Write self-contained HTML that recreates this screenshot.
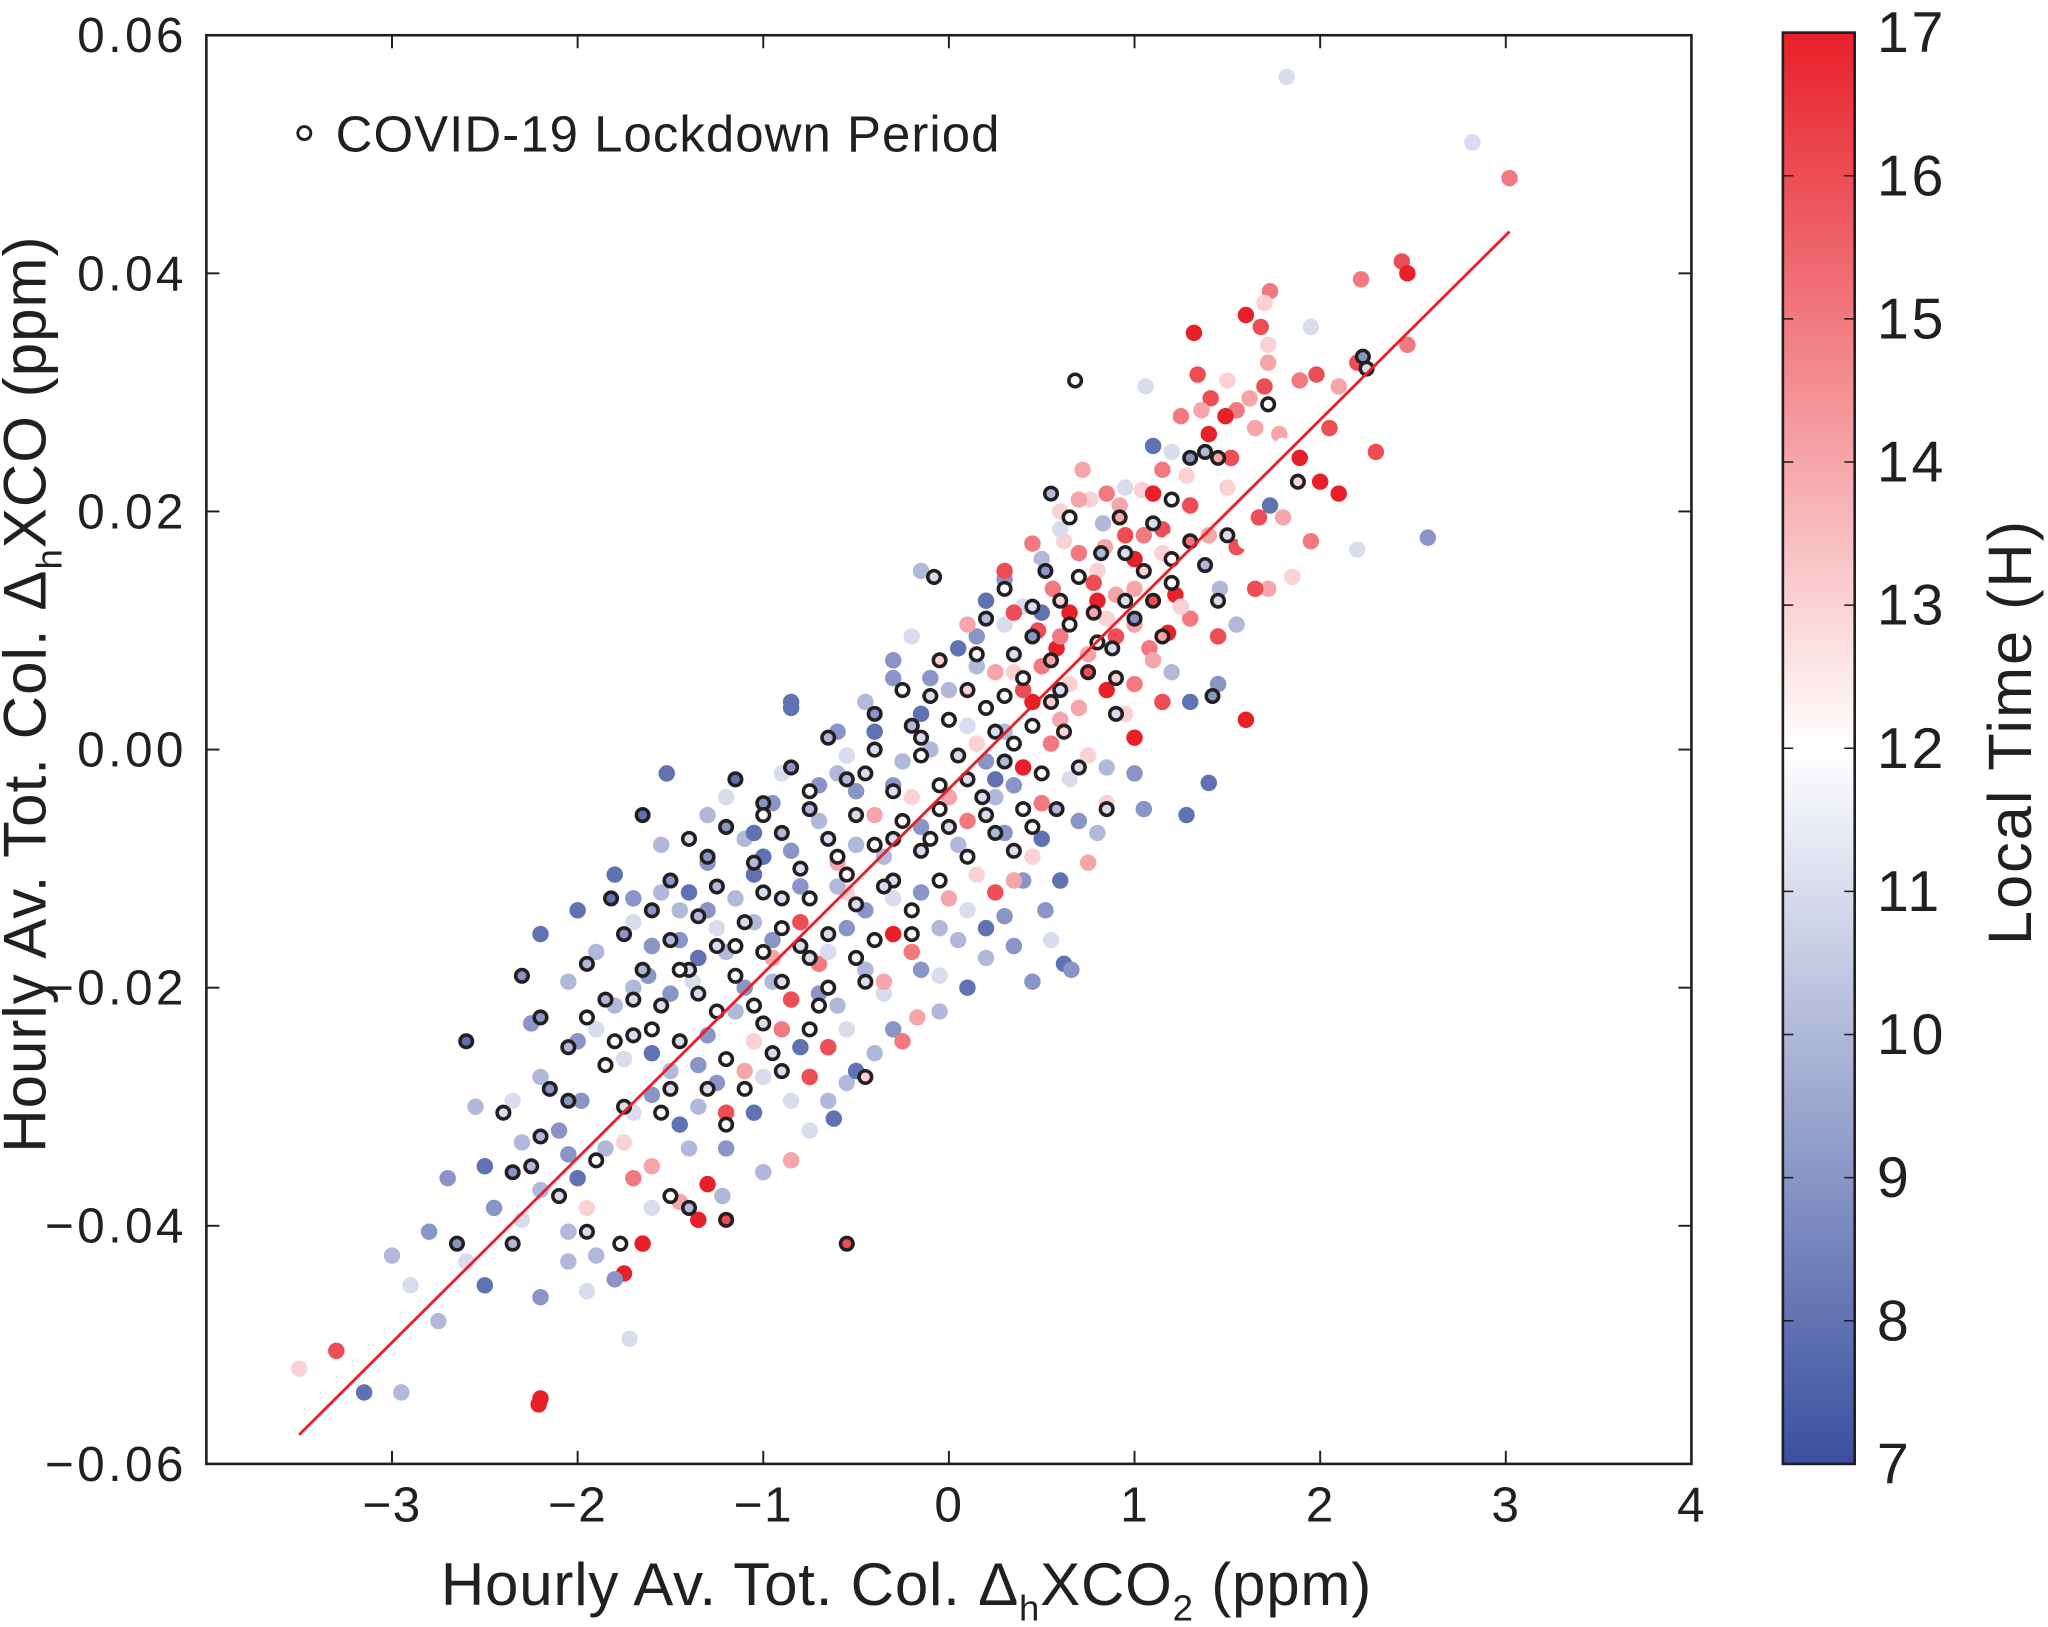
<!DOCTYPE html>
<html><head><meta charset="utf-8"><style>html,body{margin:0;padding:0;background:#fff}svg{display:block}text{font-family:"Liberation Sans",sans-serif;fill:#231f20}</style></head>
<body>
<svg id="chart" width="2048" height="1627" viewBox="0 0 1568 1247" preserveAspectRatio="none" xmlns="http://www.w3.org/2000/svg">
<defs><linearGradient id="cbg" x1="0" y1="1" x2="0" y2="0"><stop offset="0" stop-color="#3a4fa0"/><stop offset="0.5" stop-color="#ffffff"/><stop offset="1" stop-color="#e8202a"/></linearGradient></defs>
<g id="points"></g>
<g id="rings"></g>
<line id="fit" stroke="#e8202a" stroke-width="2.2"/>
<rect x="158" y="27" width="1137" height="1095" fill="none" stroke="#231f20" stroke-width="2"/>
<g id="axes"></g>
<circle cx="233" cy="102" r="5" fill="#fff" stroke="#231f20" stroke-width="2.2"/>
<text x="257" y="116" font-size="39" letter-spacing="0.8">COVID-19 Lockdown Period</text>
<text x="694" y="1230" font-size="46" letter-spacing="0.6" text-anchor="middle">Hourly Av. Tot. Col. Δ<tspan font-size="28" dy="12">h</tspan><tspan dy="-12">XCO</tspan><tspan font-size="28" dy="12">2</tspan><tspan dy="-12"> (ppm)</tspan></text>
<text transform="translate(35,532) rotate(-90)" font-size="46" letter-spacing="0.8" text-anchor="middle">Hourly Av. Tot. Col. Δ<tspan font-size="28" dy="12">h</tspan><tspan dy="-12">XCO (ppm)</tspan></text>
<rect x="1365" y="25" width="55" height="1097" fill="url(#cbg)" stroke="#231f20" stroke-width="2"/>
<g id="cbticks"></g>
<text transform="translate(1555,561) rotate(-90)" font-size="47" letter-spacing="1.5" text-anchor="middle">Local Time (H)</text>
</svg>
<script>
const xTicks=[-3,-2,-1,0,1,2,3,4];
const xTickLabels=["−3","−2","−1","0","1","2","3","4"];
const yTicks=[-0.06,-0.04,-0.02,0,0.02,0.04,0.06];
const yTickLabels=["−0.06","−0.04","−0.02","0.00","0.02","0.04","0.06"];
const cbTicks=[7,8,9,10,11,12,13,14,15,16,17];
const fitSlope=[0.0155];
const fitIntercept=[-0.0033];
const fitRange=[-3.5,3.02];
const pts=[[1.82,0.0565,11],[2.82,0.051,11],[3.02,0.048,15],[2.44,0.041,16],[2.47,0.040,17],[2.22,0.0395,15],[1.73,0.0385,15],[1.6,0.0365,17],[1.7,0.0375,13],[1.68,0.0355,16],[1.32,0.035,17],[1.95,0.0355,11],[2.2,0.0325,16],[2.47,0.034,15],[1.72,0.034,13],[1.72,0.0325,14],[1.89,0.031,15],[1.98,0.0315,16],[1.34,0.0315,16],[1.06,0.0305,11],[1.41,0.0295,16],[1.62,0.0295,14],[1.36,0.0285,14],[1.55,0.0285,15],[1.49,0.028,17],[1.65,0.027,14],[2.05,0.027,16],[1.78,0.0265,14],[1.1,0.0255,8],[1.8,0.0255,12],[1.52,0.0245,16],[1.89,0.0245,17],[1.2,0.025,11],[1.28,0.023,13],[2.0,0.0225,17],[0.72,0.0235,14],[0.95,0.022,11],[1.04,0.0218,13],[0.76,0.021,13],[0.92,0.0205,14],[0.83,0.019,10],[1.73,0.0205,8],[1.67,0.0195,16],[2.58,0.0178,9],[2.2,0.0168,11],[1.55,0.017,16],[1.72,0.0178,12],[0.45,0.0173,15],[0.62,0.0175,13],[0.84,0.017,14],[1.05,0.018,15],[1.15,0.0185,16],[1.2,0.0175,12],[1.6,0.0175,12],[0.5,0.016,10],[0.8,0.015,13],[1.0,0.016,17],[1.3,0.015,12],[0.3,0.0143,9],[0.56,0.0135,15],[0.78,0.014,16],[0.9,0.013,14],[1.05,0.0125,12],[1.22,0.013,17],[1.46,0.0135,10],[1.72,0.0135,14],[1.65,0.0135,16],[0.2,0.0125,8],[0.4,0.012,11],[0.65,0.0115,17],[0.85,0.011,13],[1.0,0.0105,14],[1.18,0.0098,17],[1.3,0.011,15],[1.08,0.0085,15],[0.3,0.0105,11],[0.48,0.01,16],[0.72,0.0095,12],[0.9,0.0095,16],[1.1,0.0075,14],[0.15,0.0095,9],[-0.2,0.0095,11],[0.05,0.0085,8],[0.58,0.0085,17],[0.75,0.008,14],[0.95,0.0065,12],[1.2,0.0065,10],[1.45,0.0055,9],[0.35,0.0065,13],[0.5,0.007,15],[0.65,0.0055,13],[0.85,0.005,17],[1.0,0.0055,15],[1.3,0.004,8],[-0.3,0.006,9],[0.0,0.005,10],[0.2,0.004,12],[0.45,0.004,17],[0.7,0.0035,14],[1.6,0.0025,17],[0.95,0.003,13],[-0.45,0.004,10],[-0.15,0.003,8],[0.1,0.002,11],[0.3,0.0015,10],[0.55,0.0005,15],[0.8,0.001,12],[-0.85,0.0035,8],[-0.6,0.0015,9],[-0.35,0.0005,12],[-0.1,0.0,10],[0.2,-0.001,9],[0.4,-0.0015,17],[0.65,-0.0025,11],[0.85,-0.0015,10],[1.4,-0.0028,8],[0.85,-0.0045,13],[-0.9,-0.002,11],[-0.6,-0.002,10],[-0.3,-0.003,9],[0.0,-0.002,12],[0.25,-0.004,10],[0.5,-0.0045,15],[0.7,-0.006,9],[1.05,-0.005,9],[1.28,-0.0055,8],[-1.52,-0.002,8],[-1.2,-0.004,11],[-0.95,-0.0045,9],[-0.7,-0.006,10],[-0.4,-0.0055,14],[-0.15,-0.0065,9],[0.1,-0.006,15],[0.3,-0.007,9],[0.5,-0.0075,8],[0.75,-0.0095,14],[-1.1,-0.0075,10],[-0.85,-0.0085,9],[-0.6,-0.0095,14],[-0.35,-0.009,10],[-0.1,-0.01,12],[0.15,-0.0105,13],[0.4,-0.011,9],[0.6,-0.011,8],[-1.55,-0.008,10],[-1.3,-0.0095,9],[-1.05,-0.0105,8],[-0.8,-0.0115,9],[-0.55,-0.012,13],[-0.3,-0.0125,11],[0.0,-0.0125,14],[0.25,-0.012,16],[0.52,-0.0135,9],[-1.8,-0.0105,8],[-1.55,-0.012,10],[-1.3,-0.0135,9],[-1.05,-0.0145,10],[-0.8,-0.0145,16],[-0.55,-0.015,9],[-0.3,-0.0155,17],[-0.05,-0.015,10],[0.2,-0.015,8],[0.35,-0.0165,9],[0.62,-0.018,8],[0.66,-0.0185,9],[-2.0,-0.0135,8],[-1.7,-0.0145,11],[-1.45,-0.016,9],[-1.2,-0.017,10],[-0.95,-0.0175,14],[-0.7,-0.018,15],[-0.45,-0.0185,10],[-0.15,-0.0185,9],[0.1,-0.02,8],[-2.2,-0.0155,8],[-1.9,-0.017,10],[-1.62,-0.019,9],[-1.38,-0.0195,11],[-1.1,-0.02,9],[-0.85,-0.021,16],[-0.6,-0.0215,10],[-0.35,-0.0205,11],[-0.17,-0.0225,14],[-1.8,-0.0215,10],[-1.55,-0.023,12],[-1.3,-0.024,9],[-1.05,-0.0245,13],[-0.8,-0.025,8],[-0.55,-0.0235,11],[-0.4,-0.0255,10],[-2.0,-0.0245,9],[-1.75,-0.026,11],[-1.5,-0.027,10],[-1.25,-0.028,9],[-1.0,-0.0275,11],[-0.75,-0.0275,16],[-0.55,-0.028,10],[-2.2,-0.0275,10],[-1.98,-0.0295,9],[-1.7,-0.0305,11],[-1.45,-0.0315,8],[-1.2,-0.0305,16],[-0.95,-0.0325,12],[-0.65,-0.0295,10],[-2.35,-0.0295,11],[-2.1,-0.032,9],[-1.85,-0.0335,10],[-1.6,-0.035,14],[-1.4,-0.0335,10],[-0.85,-0.0345,14],[-0.62,-0.031,8],[-2.5,-0.035,8],[-2.2,-0.037,10],[-1.95,-0.0385,13],[-1.7,-0.036,15],[-1.45,-0.038,14],[-1.3,-0.0365,17],[-1.22,-0.0375,10],[-2.3,-0.0395,11],[-2.05,-0.0405,10],[-1.8,-0.0405,12],[-1.65,-0.0415,17],[-1.75,-0.044,17],[-2.8,-0.0405,9],[-3.0,-0.0425,10],[-2.35,-0.0425,12],[-2.05,-0.043,10],[-1.95,-0.0455,11],[-2.2,-0.046,9],[-2.5,-0.045,8],[-1.8,-0.0445,9],[-2.75,-0.048,10],[-1.72,-0.0495,11],[-3.5,-0.052,13],[-3.3,-0.0505,16],[-3.15,-0.054,8],[-2.95,-0.054,10],[-2.2,-0.0545,17],[-2.21,-0.055,17],[-0.15,0.015,10],[-0.85,0.004,8],[0.3,0.015,16],[0.7,0.021,14],[0.6,0.02,13],
[-0.7,-0.003,9],[-0.5,-0.008,10],[-0.2,-0.004,13],[0.05,-0.008,10],[0.35,-0.003,9],[0.6,-0.0035,12],[0.8,-0.007,10],[1.0,-0.002,9],[-1.0,-0.009,8],[-0.75,-0.013,12],[-0.45,-0.0135,9],[-0.2,-0.017,15],[0.05,-0.016,10],[0.3,-0.014,9],[0.45,-0.009,13],[-1.4,-0.012,8],[-1.15,-0.0125,10],[-0.95,-0.016,9],[-0.65,-0.017,11],[-0.35,-0.0195,14],[-0.05,-0.019,11],[0.2,-0.0175,10],[-1.6,-0.0165,9],[-1.35,-0.0175,8],[-1.15,-0.022,10],[-0.9,-0.0235,15],[-0.65,-0.025,16],[-0.3,-0.0235,9],[-1.7,-0.020,10],[-1.5,-0.0205,9],[-1.9,-0.0235,11],[-1.6,-0.0255,8],[-1.35,-0.0265,9],[-1.1,-0.027,14],[-0.85,-0.0295,11],[-1.9,-0.0275,12],[-1.6,-0.029,9],[-1.35,-0.03,10],[-1.05,-0.0305,8],[-0.75,-0.032,11],[-2.05,-0.034,9],[-1.75,-0.033,13],[-1.5,-0.033,12],[-1.2,-0.0335,9],[-1.0,-0.0355,10],[-2.3,-0.033,10],[-2.0,-0.036,8],[-1.6,-0.0385,11],[-1.35,-0.0395,17],[-2.45,-0.0385,9],[-2.15,-0.041,12],[-1.9,-0.0425,10],[-2.6,-0.043,11],[-0.1,0.006,9],[0.15,0.007,10],[0.4,0.005,16],[0.6,0.0025,14],[0.75,-0.0005,13],[1.0,0.001,17],[1.15,0.004,16],[0.1,0.0105,14],[0.35,0.0115,16],[0.6,0.0095,15],[0.8,0.0125,17],[1.0,0.0135,14],[1.25,0.012,13],[1.45,0.0095,16],[0.45,0.015,12],[0.7,0.0165,15],[0.95,0.018,16],[1.15,0.0165,13],[1.4,0.018,14],[0.6,0.0185,11],[0.85,0.0215,15],[1.1,0.0215,17],[1.3,0.0205,16],[1.5,0.022,13],[0.9,0.024,12],[1.15,0.0235,15],[1.4,0.0265,17],[1.55,0.026,12],[1.25,0.028,15],[1.7,0.0305,16],[1.5,0.031,13],[2.1,0.0305,14],[-0.4,0.0015,8],[-0.55,-0.0005,11],[-0.25,-0.001,10],[0.0,-0.004,14],[0.15,0.0005,13],[0.25,-0.0025,8],[-0.8,-0.005,12],[-0.5,-0.0035,9],[-1.3,-0.0055,10],[-1.05,-0.007,8],[-0.6,-0.0115,10],[-0.15,-0.012,9],[0.1,-0.0135,11],[0.35,-0.011,14],[0.55,-0.016,11],[0.45,-0.0195,9],[-0.05,-0.022,10],[-0.5,-0.027,8],[-0.7,-0.0205,9],[-0.25,-0.0245,15],[-0.95,-0.0195,10],[-1.25,-0.015,11],[-1.45,-0.0135,10],[-1.7,-0.0125,9],[-2.05,-0.0195,10],[-2.25,-0.023,9],[-2.4,-0.026,12],[-2.55,-0.03,10],[-2.7,-0.036,9],[-2.9,-0.045,11],[-0.3,0.0075,9],[0.5,0.0115,8],[0.25,0.0065,14],[1.35,0.0085,12],[1.55,0.0105,10],[1.85,0.0145,13],[1.95,0.0175,15],[2.3,0.025,16],[2.1,0.0215,17],[1.8,0.0195,14]];
const lockdown=[[0.68,0.031,12],[2.23,0.033,9],[2.25,0.032,11],[1.72,0.029,12],[1.88,0.0225,13],[1.3,0.0245,9],[1.38,0.025,10],[1.45,0.0245,14],[0.55,0.0215,10],[0.65,0.0195,12],[0.92,0.0195,14],[1.1,0.019,11],[1.3,0.0175,15],[1.5,0.018,11],[0.52,0.015,9],[0.82,0.0165,10],[1.05,0.015,13],[1.2,0.016,12],[1.38,0.0155,10],[-0.08,0.0145,11],[0.3,0.0135,12],[0.6,0.0125,13],[0.78,0.0115,14],[1.0,0.011,9],[1.1,0.0125,16],[1.45,0.0125,11],[0.2,0.011,10],[0.45,0.0095,9],[0.65,0.0105,12],[0.88,0.0085,11],[1.15,0.0095,14],[-0.05,0.0075,13],[0.15,0.008,12],[0.35,0.008,11],[0.55,0.0075,14],[0.75,0.0065,16],[0.9,0.006,13],[1.42,0.0045,9],[-0.25,0.005,12],[-0.1,0.0045,11],[0.1,0.005,13],[0.3,0.0045,12],[0.55,0.004,13],[0.9,0.003,11],[-0.4,0.003,9],[-0.2,0.002,10],[0.0,0.0025,12],[0.25,0.0015,11],[0.45,0.002,12],[0.62,0.0015,13],[-0.65,0.001,10],[-0.4,0.0,11],[-0.15,-0.0005,12],[0.05,-0.0005,11],[0.3,-0.001,10],[0.5,-0.002,12],[-1.15,-0.0025,8],[-0.85,-0.0015,9],[-0.55,-0.0025,10],[-0.3,-0.0035,11],[-0.05,-0.003,12],[0.18,-0.004,11],[0.4,-0.005,12],[0.58,-0.005,10],[0.85,-0.005,11],[-1.0,-0.0045,9],[-0.75,-0.005,10],[-0.5,-0.0055,11],[-0.25,-0.006,12],[0.0,-0.0065,11],[0.25,-0.007,10],[0.45,-0.0065,12],[-1.65,-0.0055,8],[-1.2,-0.0065,9],[-0.9,-0.007,10],[-0.65,-0.0075,11],[-0.4,-0.008,12],[-0.15,-0.0085,11],[0.1,-0.009,12],[0.35,-0.0085,11],[-1.3,-0.009,9],[-1.05,-0.0095,10],[-0.8,-0.01,11],[-0.55,-0.0105,12],[-0.3,-0.011,11],[-0.05,-0.011,12],[-1.5,-0.011,9],[-1.25,-0.0115,10],[-1.0,-0.012,11],[-0.75,-0.0125,12],[-0.5,-0.013,11],[-0.2,-0.0135,12],[-1.82,-0.0125,8],[-1.6,-0.0135,9],[-1.35,-0.014,10],[-1.1,-0.0145,11],[-0.9,-0.015,12],[-0.65,-0.0155,11],[-0.4,-0.016,12],[-1.75,-0.0155,9],[-1.5,-0.016,10],[-1.25,-0.0165,11],[-1.0,-0.017,12],[-0.75,-0.0175,11],[-0.5,-0.0175,12],[-2.3,-0.019,9],[-1.95,-0.018,10],[-1.65,-0.0185,10],[-1.4,-0.0185,11],[-1.15,-0.019,12],[-0.9,-0.0195,11],[-0.65,-0.02,12],[-2.2,-0.0225,9],[-1.85,-0.021,10],[-1.55,-0.0215,11],[-1.25,-0.022,12],[-1.0,-0.023,11],[-0.75,-0.0235,12],[-2.05,-0.025,10],[-1.7,-0.024,11],[-1.45,-0.0245,11],[-1.2,-0.026,12],[-0.9,-0.027,11],[-2.6,-0.0245,8],[-2.15,-0.0285,9],[-1.85,-0.0265,12],[-1.5,-0.0285,11],[-1.1,-0.0285,12],[-0.45,-0.0275,13],[-2.05,-0.0295,9],[-1.75,-0.03,11],[-1.2,-0.0315,12],[-2.2,-0.0325,10],[-1.9,-0.0345,12],[-2.35,-0.0355,9],[-2.25,-0.035,10],[-2.1,-0.0375,11],[-1.5,-0.0375,12],[-1.4,-0.0385,10],[-2.65,-0.0415,9],[-2.35,-0.0415,10],[-1.95,-0.0405,11],[-1.77,-0.0415,12],[-1.2,-0.0395,16],[-0.55,-0.0415,16],[-1.8,-0.0245,12],
[-0.3,-0.0075,11],[-0.05,-0.005,12],[0.2,-0.0055,11],[-0.6,-0.009,12],[-0.35,-0.0115,11],[-0.1,-0.0075,12],[0.1,-0.0025,11],[0.35,0.0005,12],[0.6,0.005,11],[0.8,0.009,12],[0.95,0.0125,11],[1.2,0.014,12],[-0.9,-0.0125,11],[-1.15,-0.0165,12],[-1.35,-0.0205,11],[-1.6,-0.0235,12],[-1.3,-0.0285,11],[-1.55,-0.0305,12],[-0.95,-0.0255,11],[-0.7,-0.0215,12],[-0.45,-0.0195,11],[-1.05,-0.0215,12],[-0.8,-0.0165,11],[-1.45,-0.0185,12],[-1.7,-0.021,11],[-1.95,-0.0225,12],[-2.4,-0.0305,11],[0.45,0.012,11],[0.7,0.0145,12],[0.95,0.0165,11],[1.2,0.021,12],[0.4,0.006,12],[-0.45,-0.002,11],[-0.75,-0.0035,12],[0.2,0.0035,12],[-0.15,0.001,11],[0.7,-0.0015,11],[-1.4,-0.0075,11],[-1.0,-0.0055,12],[-0.2,-0.0155,12]];

const NS="http://www.w3.org/2000/svg";
const X0=158,X1=1295,Y0=1122,Y1=27;
function sx(v){return X0+(v+4)/8*(X1-X0);}
function sy(v){return Y0-(v+0.06)/0.12*(Y0-Y1);}
function cy(h){return 1122-(h-7)/10*(1122-25);}
function col(h){const t=Math.max(0,Math.min(1,(h-7)/10));let a,b,u;
 if(t<0.5){a=[58,79,160];b=[255,255,255];u=t/0.5;}else{a=[255,255,255];b=[232,32,42];u=(t-0.5)/0.5;}
 return "rgb("+a.map((c,i)=>Math.round(c+(b[i]-c)*u)).join(",")+")";}
function mk(tag,attrs,parent){const e=document.createElementNS(NS,tag);for(const k in attrs)e.setAttribute(k,attrs[k]);parent.appendChild(e);return e;}
const gp=document.getElementById('points');
pts.forEach(p=>{const c=mk('circle',{cx:sx(p[0]),cy:sy(p[1]),r:6.3,fill:col(p[2])},gp);

});
const gr=document.getElementById('rings');
lockdown.forEach(p=>{const c=mk('circle',{cx:sx(p[0]),cy:sy(p[1]),r:4.8,fill:col(p[2]),stroke:'#231f20','stroke-width':2.7},gr);

});
const fl=document.getElementById('fit');
fl.setAttribute('x1',sx(fitRange[0]));fl.setAttribute('y1',sy(fitSlope[0]*fitRange[0]+fitIntercept[0]));
fl.setAttribute('x2',sx(fitRange[1]));fl.setAttribute('y2',sy(fitSlope[0]*fitRange[1]+fitIntercept[0]));
const ga=document.getElementById('axes');
xTicks.forEach((v,i)=>{const x=sx(v);
 mk('line',{x1:x,x2:x,y1:Y0,y2:Y0-10,stroke:'#231f20','stroke-width':1.5},ga);
 mk('line',{x1:x,x2:x,y1:Y1,y2:Y1+10,stroke:'#231f20','stroke-width':1.5},ga);
 const t=mk('text',{x:x,y:1166,'font-size':38,'letter-spacing':1,'text-anchor':'middle'},ga);t.textContent=xTickLabels[i];
 
 });
yTicks.forEach((v,i)=>{const y=sy(v);
 mk('line',{x1:X0,x2:X0+10,y1:y,y2:y,stroke:'#231f20','stroke-width':1.5},ga);
 mk('line',{x1:X1,x2:X1-10,y1:y,y2:y,stroke:'#231f20','stroke-width':1.5},ga);
 const t=mk('text',{x:143,y:y+13,'font-size':38,'letter-spacing':2.5,'text-anchor':'end'},ga);t.textContent=yTickLabels[i];
 
 });
const gc=document.getElementById('cbticks');
cbTicks.forEach(v=>{const y=cy(v);
 mk('line',{x1:1365,x2:1373,y1:y,y2:y,stroke:'#231f20','stroke-width':1.2},gc);
 mk('line',{x1:1420,x2:1412,y1:y,y2:y,stroke:'#231f20','stroke-width':1.2},gc);
 const t=mk('text',{x:1437,y:y+15,'font-size':44,'letter-spacing':2},gc);t.textContent=String(v);
 
 });
</script>
</body></html>
